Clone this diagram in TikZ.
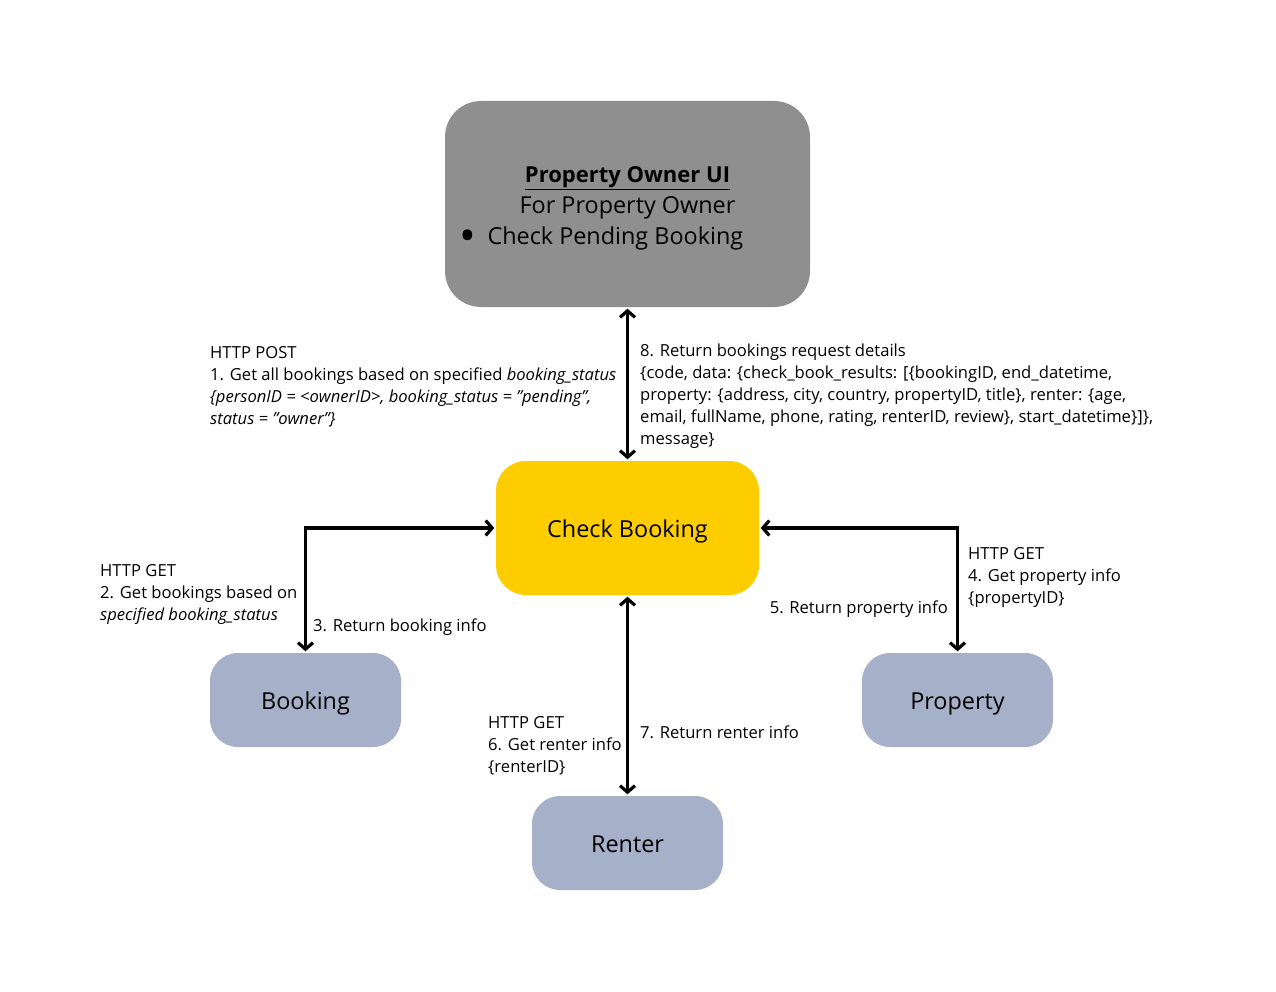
\documentclass[tikz,border=0pt]{standalone}
\usepackage{fontspec}
\setmainfont{Open Sans}
\usetikzlibrary{arrows.meta}
\definecolor{uigrey}{HTML}{8F8F8F}
\definecolor{cbyellow}{HTML}{FDCD00}
\definecolor{svcblue}{HTML}{A7B0C9}
\tikzset{
  box/.style={inner sep=0pt, align=center, font=\fontsize{23.4}{31}\selectfont, text height=21pt, text depth=2.5pt},
  svc/.style={box, fill=svcblue, minimum width=191pt, minimum height=94pt, rounded corners=28pt},
  conn/.style={line width=3.2pt, {Straight Barb[length=6.5pt,width=15pt]}-{Straight Barb[length=6.5pt,width=15pt]}, shorten >=1.5pt, shorten <=1.5pt},
  lbl/.style={inner sep=0pt, align=left, font=\fontsize{16.6}{22}\selectfont},
}
\newcommand{\qq}{\symbol{"22}}
\begin{document}
\begin{tikzpicture}[x=1pt,y=-1pt]
\useasboundingbox[fill=white] (0,0) rectangle (1276,992);
\node[box, fill=uigrey, minimum width=365pt, minimum height=206pt, rounded corners=36pt, text height=57pt, text depth=35pt] (ui) at (627.5,204)
  {\parbox{300pt}{\centering{\fontsize{22}{31}\selectfont\textbf{\underline{Property Owner UI}}}\\For Property Owner\\\hspace*{-52pt}\raisebox{-7pt}{\scalebox{1.9}{\textbullet}}\hspace{11pt}Check Pending Booking}};
\node[box, fill=cbyellow, minimum width=263pt, minimum height=134pt, rounded corners=30pt] (cb) at (627.5,528) {Check Booking};
\node[svc] (booking) at (305.5,700) {Booking};
\node[svc] (property) at (957.5,700) {Property};
\node[svc] (renter) at (627.5,843) {Renter};

\draw[conn] (ui.south) -- (cb.north);
\draw[conn] (booking.north) |- (cb.west);
\draw[conn] (cb.east) -| (property.north);
\draw[conn] (cb.south) -- (renter.north);

\node[lbl, anchor=north west] (post) at (210,346) {HTTP POST\\1. Get all bookings based on specified \textit{booking\_status}\\\textit{\{personID = <ownerID>, booking\_status = \qq pending\qq,}\\\textit{status = \qq owner\qq\}}};
\node[lbl, anchor=north west] (ret8) at (640,344) {8. Return bookings request details\\\{code, data: \{check\_book\_results: [\{bookingID, end\_datetime,\\property: \{address, city, country, propertyID, title\}, renter: \{age,\\email, fullName, phone, rating, renterID, review\}, start\_datetime\}]\},\\message\}};
\node[lbl, anchor=north west] (get2) at (100,564) {HTTP GET\\2. Get bookings based on\\\textit{specified booking\_status}};
\node[lbl, anchor=north west] (ret3) at (313,619) {3. Return booking info};
\node[lbl, anchor=north west] (get4) at (968,547) {HTTP GET\\4. Get property info\\\{propertyID\}};
\node[lbl, anchor=north east] (ret5) at (948,601) {5. Return property info};
\node[lbl, anchor=north west] (get6) at (488,716) {HTTP GET\\6. Get renter info\\\{renterID\}};
\node[lbl, anchor=north west] (ret7) at (640,726) {7. Return renter info};
\end{tikzpicture}
\end{document}
